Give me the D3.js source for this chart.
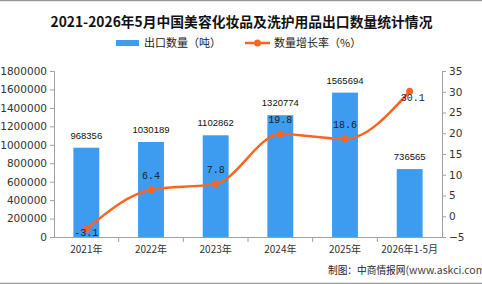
<!DOCTYPE html>
<html>
<head>
<meta charset="utf-8">
<script src="https://cdn.jsdelivr.net/npm/d3@7"></script>
<style>
  body { margin: 0; background: #fff; }
  svg { display: block; }
</style>
</head>
<body>
<div id="chart"></div>
<script>
// data
var categories = ["2021年", "2022年", "2023年", "2024年", "2025年", "2026年1-5月"];
var exportQty = [968356, 1030189, 1102862, 1320774, 1565694, 736565];
var growthRate = [-3.1, 6.4, 7.8, 19.8, 18.6, 30.1];
var leftTicks = [0, 200000, 400000, 600000, 800000, 1000000, 1200000, 1400000, 1600000, 1800000];
var rightTicks = [-5, 0, 5, 10, 15, 20, 25, 30, 35];

var width = 482, height = 284;
var margin = {top: 71, right: 40, bottom: 47, left: 54};
var barColor = "#3d9cf0", lineColor = "#fb6522", axisColor = "#a0a0a0";
var sans = "'DejaVu Sans', Verdana, sans-serif";
var cjk = "'Noto Sans CJK SC', sans-serif";

var svg = d3.select("#chart").append("svg")
    .attr("width", width)
    .attr("height", height);

// gray frame lines top & bottom
svg.append("line").attr("x1", 0).attr("x2", width).attr("y1", 0.5).attr("y2", 0.5)
    .attr("stroke", "#999").attr("stroke-width", 1.5);
svg.append("line").attr("x1", 0).attr("x2", width).attr("y1", 283.5).attr("y2", 283.5)
    .attr("stroke", "#999").attr("stroke-width", 1.5);

// title
svg.append("text")
    .attr("x", 241.5).attr("y", 27)
    .attr("text-anchor", "middle")
    .style("font-family", cjk)
    .style("font-weight", "bold")
    .style("font-size", "13.8px")
    .attr("fill", "#111")
    .text("2021-2026年5月中国美容化妆品及洗护用品出口数量统计情况");

// legend
var leg = svg.append("g").style("font-family", cjk).style("font-size", "11px").attr("fill", "#222");
leg.append("rect").attr("x", 116).attr("y", 40).attr("width", 23).attr("height", 6).attr("fill", barColor);
leg.append("text").attr("x", 144).attr("y", 47).text("出口数量（吨）");
leg.append("line").attr("x1", 245).attr("x2", 270).attr("y1", 43).attr("y2", 43)
    .attr("stroke", lineColor).attr("stroke-width", 2.5);
leg.append("circle").attr("cx", 257.5).attr("cy", 43).attr("r", 3.5).attr("fill", lineColor);
leg.append("text").attr("x", 274).attr("y", 47).text("数量增长率（%）");

var x = d3.scaleBand()
    .domain(categories)
    .range([margin.left, width - margin.right])
    .paddingInner(0)
    .paddingOuter(0);

var yL = d3.scaleLinear().domain([0, 1800000]).range([height - margin.bottom, margin.top]);
var yR = d3.scaleLinear().domain([-5, 35]).range([height - margin.bottom, margin.top]);

// axes
var leftAxis = svg.append("g")
    .attr("transform", "translate(" + margin.left + ",0)")
    .call(d3.axisLeft(yL).tickValues(leftTicks).tickSize(4).tickPadding(3).tickFormat(d3.format("d")));
var rightAxis = svg.append("g")
    .attr("transform", "translate(" + (width - margin.right) + ",0)")
    .call(d3.axisRight(yR).tickValues(rightTicks).tickSize(4).tickPadding(3).tickFormat(d3.format("d")));
var bottomAxis = svg.append("g")
    .attr("transform", "translate(0," + (height - margin.bottom) + ")")
    .call(d3.axisBottom(x).tickSize(0).tickPadding(9));

[leftAxis, rightAxis].forEach(function (a) {
    a.select(".domain").attr("stroke", axisColor);
    a.selectAll(".tick line").attr("stroke", axisColor);
    a.selectAll("text").style("font-family", sans).style("font-size", "10.5px").attr("fill", "#333");
});
bottomAxis.select(".domain").attr("stroke", axisColor);
bottomAxis.selectAll("text").style("font-family", cjk).style("font-size", "10px").attr("fill", "#333");

// bottom ticks between bands
bottomAxis.selectAll(".sep")
    .data(categories.slice(1))
    .enter().append("line")
    .attr("class", "sep")
    .attr("x1", function (d) { return x(d); })
    .attr("x2", function (d) { return x(d); })
    .attr("y1", 0).attr("y2", 5)
    .attr("stroke", axisColor);

// bars
var barW = x.bandwidth() * 0.4;
svg.selectAll(".bar")
    .data(exportQty)
    .enter().append("rect")
    .attr("class", "bar")
    .attr("x", function (d, i) { return x(categories[i]) + (x.bandwidth() - barW) / 2; })
    .attr("y", function (d) { return yL(d); })
    .attr("width", barW)
    .attr("height", function (d) { return yL(0) - yL(d); })
    .attr("fill", barColor);

svg.selectAll(".barlabel")
    .data(exportQty)
    .enter().append("text")
    .attr("class", "barlabel")
    .attr("x", function (d, i) { return x(categories[i]) + x.bandwidth() / 2; })
    .attr("y", function (d) { return yL(d) - 9; })
    .attr("text-anchor", "middle")
    .style("font-family", "'Liberation Sans', Arial, sans-serif")
    .style("font-size", "9.5px")
    .attr("fill", "#111")
    .text(function (d) { return d; });

// growth line
var line = d3.line()
    .x(function (d, i) { return x(categories[i]) + x.bandwidth() / 2; })
    .y(function (d) { return yR(d); })
    .curve(d3.curveMonotoneX);

svg.append("path")
    .datum(growthRate)
    .attr("d", line)
    .attr("fill", "none")
    .attr("stroke", lineColor)
    .attr("stroke-width", 2.5);

svg.selectAll(".dot")
    .data(growthRate)
    .enter().append("circle")
    .attr("class", "dot")
    .attr("cx", function (d, i) { return x(categories[i]) + x.bandwidth() / 2; })
    .attr("cy", function (d) { return yR(d); })
    .attr("r", 3.5)
    .attr("fill", lineColor);

// first and last labels sit on the point, the rest above it
svg.selectAll(".ratelabel")
    .data(growthRate)
    .enter().append("text")
    .attr("class", "ratelabel")
    .attr("x", function (d, i) {
        var cx = x(categories[i]) + x.bandwidth() / 2;
        return (i === growthRate.length - 1) ? cx + 3 : cx;
    })
    .attr("y", function (d, i) {
        if (i === 0) return yR(d) + 7;
        if (i === growthRate.length - 1) return yR(d) + 10;
        return yR(d) - 11;
    })
    .attr("text-anchor", "middle")
    .style("font-family", "'Liberation Mono', 'DejaVu Sans Mono', monospace")
    .style("font-size", "10px")
    .attr("fill", "#222")
    .text(function (d) { return d; });

// source note (runs off the right edge like the original)
svg.append("text")
    .attr("x", 328).attr("y", 274)
    .style("font-family", cjk)
    .style("font-size", "9.7px")
    .attr("fill", "#222")
    .text("制图：中商情报网")
    .append("tspan")
    .attr("fill", "#444")
    .style("font-size", "10.5px")
    .text("(www.askci.com");
</script>
</body>
</html>
